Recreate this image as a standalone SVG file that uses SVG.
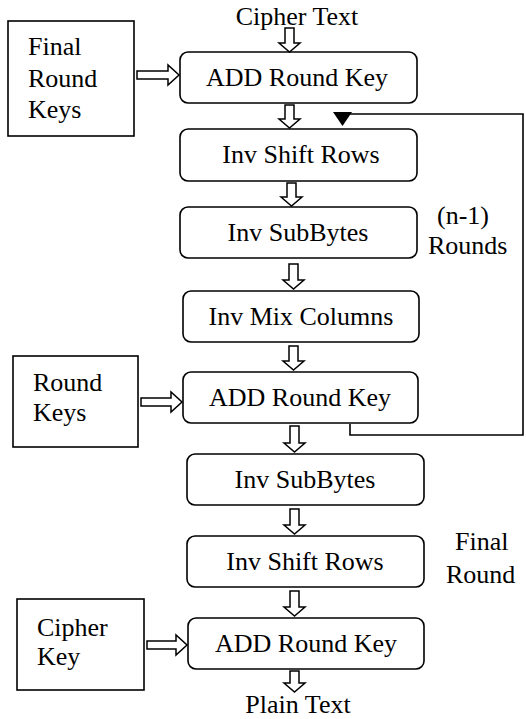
<svg xmlns="http://www.w3.org/2000/svg" width="526" height="719" viewBox="0 0 526 719">
  <rect width="526" height="719" fill="#fff"/>

  <!-- key inputs -->
  <g id="final-round-keys">
    <rect x="8" y="21" width="126" height="115" fill="#fff" stroke="#000" stroke-width="1.6"/>
    <text x="28" y="55" style="font-family:'Liberation Serif',serif !important;font-size:26px">Final</text>
    <text x="28" y="87" style="font-family:'Liberation Serif',serif !important;font-size:26px">Round</text>
    <text x="28" y="118" style="font-family:'Liberation Serif',serif !important;font-size:26px">Keys</text>
  </g>
  <g id="round-keys">
    <rect x="13" y="356" width="125" height="91" fill="#fff" stroke="#000" stroke-width="1.6"/>
    <text x="33" y="391" style="font-family:'Liberation Serif',serif !important;font-size:26px">Round</text>
    <text x="33" y="421" style="font-family:'Liberation Serif',serif !important;font-size:26px">Keys</text>
  </g>
  <g id="cipher-key">
    <rect x="17" y="599" width="127" height="91" fill="#fff" stroke="#000" stroke-width="1.6"/>
    <text x="37" y="636" style="font-family:'Liberation Serif',serif !important;font-size:26px">Cipher</text>
    <text x="37" y="665" style="font-family:'Liberation Serif',serif !important;font-size:26px">Key</text>
  </g>

  <!-- processing steps -->
  <g id="add-round-key-1">
    <rect x="180" y="52" width="237" height="51" rx="8" fill="#fff" stroke="#000" stroke-width="1.6"/>
    <text x="297" y="86" text-anchor="middle" style="font-family:'Liberation Serif',serif !important;font-size:26px">ADD Round Key</text>
  </g>
  <g id="inv-shift-rows-1">
    <rect x="180" y="129" width="237" height="52" rx="8" fill="#fff" stroke="#000" stroke-width="1.6"/>
    <text x="301" y="163" text-anchor="middle" style="font-family:'Liberation Serif',serif !important;font-size:26px">Inv Shift Rows</text>
  </g>
  <g id="inv-subbytes-1">
    <rect x="180" y="207" width="237" height="51" rx="8" fill="#fff" stroke="#000" stroke-width="1.6"/>
    <text x="298" y="241" text-anchor="middle" style="font-family:'Liberation Serif',serif !important;font-size:26px">Inv SubBytes</text>
  </g>
  <g id="inv-mix-columns">
    <rect x="183" y="291" width="236" height="51" rx="8" fill="#fff" stroke="#000" stroke-width="1.6"/>
    <text x="301" y="325" text-anchor="middle" style="font-family:'Liberation Serif',serif !important;font-size:26px">Inv Mix Columns</text>
  </g>
  <g id="add-round-key-2">
    <rect x="183" y="372" width="235" height="51" rx="8" fill="#fff" stroke="#000" stroke-width="1.6"/>
    <text x="300" y="406" text-anchor="middle" style="font-family:'Liberation Serif',serif !important;font-size:26px">ADD Round Key</text>
  </g>
  <g id="inv-subbytes-2">
    <rect x="187" y="454" width="237" height="51" rx="8" fill="#fff" stroke="#000" stroke-width="1.6"/>
    <text x="305" y="488" text-anchor="middle" style="font-family:'Liberation Serif',serif !important;font-size:26px">Inv SubBytes</text>
  </g>
  <g id="inv-shift-rows-2">
    <rect x="187" y="536" width="237" height="51" rx="8" fill="#fff" stroke="#000" stroke-width="1.6"/>
    <text x="305" y="570" text-anchor="middle" style="font-family:'Liberation Serif',serif !important;font-size:26px">Inv Shift Rows</text>
  </g>
  <g id="add-round-key-3">
    <rect x="188" y="618" width="236" height="51" rx="8" fill="#fff" stroke="#000" stroke-width="1.6"/>
    <text x="306" y="652" text-anchor="middle" style="font-family:'Liberation Serif',serif !important;font-size:26px">ADD Round Key</text>
  </g>

  <!-- input / output and round labels -->
  <g id="labels">
    <text x="297" y="25" text-anchor="middle" style="font-family:'Liberation Serif',serif !important;font-size:26px">Cipher Text</text>
    <text x="298" y="713" text-anchor="middle" style="font-family:'Liberation Serif',serif !important;font-size:26px">Plain Text</text>
    <text x="437" y="224" style="font-family:'Liberation Serif',serif !important;font-size:26px">(n-1)</text>
    <text x="428" y="254" style="font-family:'Liberation Serif',serif !important;font-size:26px">Rounds</text>
    <text x="455" y="550" style="font-family:'Liberation Serif',serif !important;font-size:26px">Final</text>
    <text x="446" y="583" style="font-family:'Liberation Serif',serif !important;font-size:26px">Round</text>
  </g>

  <!-- connectors -->
  <g id="connectors" fill="#fff" stroke="#000" stroke-width="1.5">
    <!-- vertical hollow arrows -->
    <polygon points="285,28 294,28 294,43 300,43 289.5,52 279,43 285,43"/>
    <polygon points="285,105 294,105 294,119 300,119 289.5,128 279,119 285,119"/>
    <polygon points="287,183 296,183 296,197 302,197 291.5,206 281,197 287,197"/>
    <polygon points="289,264 298,264 298,280 304,280 293.5,289 283,280 289,280"/>
    <polygon points="289,346 298,346 298,361 304,361 293.5,370 283,361 289,361"/>
    <polygon points="290,426 299,426 299,443 305,443 294.5,452 284,443 290,443"/>
    <polygon points="290,509 299,509 299,525 305,525 294.5,534 284,525 290,525"/>
    <polygon points="290,591 299,591 299,607 305,607 294.5,616 284,607 290,607"/>
    <polygon points="290,671 299,671 299,683 305,683 294.5,692 284,683 290,683"/>

    <!-- horizontal hollow arrows from key boxes -->
    <polygon points="137,71 168,71 168,65 179,75 168,85 168,79 137,79"/>
    <polygon points="141,398 171,398 171,392 182,402 171,412 171,406 141,406"/>
    <polygon points="147,641 176,641 176,635 187,645 176,655 176,649 147,649"/>

    <!-- loop back for the (n-1) rounds -->
    <polyline points="350,424 350,435 523,435 523,114 346,114" fill="none" stroke-width="1.6"/>
    <polygon points="333,112 352,112 342.5,126" fill="#000" stroke="none"/>
  </g>
</svg>
